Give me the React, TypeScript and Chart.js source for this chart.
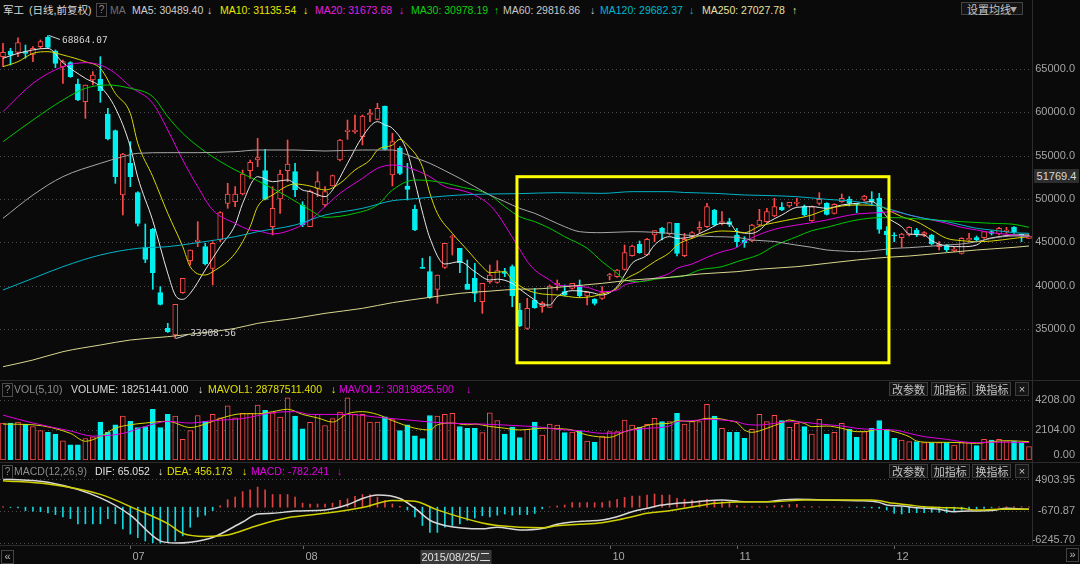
import React, { useEffect, useRef } from "react";
import { Chart, registerables } from "chart.js";
Chart.register(...registerables);

const BG = "#0a0a0a";
const UP = "#ff4a4a";
const DOWN = "#00f0f0";

// ---------- candles ----------
const opens = [66423,67077,66923,66999,66693,67577,68654,67077,65270,65731,63270,61231,63731,63808,59808,57885,50463,54116,50732,44386,46500,39193,35078,34309,39193,42886,45078,44500,42001,45270,49501,49693,50578,53270,54501,53270,46808,50001,53270,53155,49308,46808,51231,49308,51500,54500,57770,57770,57193,59693,59193,60731,52770,55847,51501,48808,42077,41616,39578,42116,45577,44308,40193,40847,38155,40463,40386,41617,42194,37194,35078,38348,37578,37502,40079,39309,39694,40079,38809,38463,38540,41117,41040,41886,43463,44770,43540,45848,46617,45963,47194,43463,45655,46502,46809,48732,47194,47386,45848,45271,45156,47002,47386,48040,49040,49194,49502,49117,47502,49502,49502,48347,49694,49963,49502,49963,49963,50078,46309,45848,45540,45848,46425,45925,45848,44502,44694,44040,43732,45271,45540,45540,46232,45963,46232,46732,45963,45463];
const highs = [67962,67385,68600,67770,67577,68346,68864.07,67192,66039,65846,63847,63154,64693,66423,60462,57962,55270,56616,50847,47116,46616,39885,35654,37847,40847,44116,47385,44885,45077,48539,51808,51424,53347,54500,57000,55731,51424,53347,56808,54116,49693,51039,53155,51424,52770,56885,59116,59693,59693,60347,61039,60731,57577,56039,54116,49308,43155,43347,41232,44886,45847,44308,42963,42577,40270,42386,42886,42001,42385,37963,38540,39694,38155,40079,40656,40079,40271,40656,39232,38500,39886,41425,41900,44693,44693,45155,45463,46348,46732,47271,47194,46040,46232,47386,49502,48809,48540,47771,46617,45655,47079,48809,48925,50078,49578,49617,50078,49309,49194,50732,49578,49463,50578,50271,49502,50425,50848,50655,46809,46117,46040,46809,46617,46232,45925,45079,44771,44425,45540,46040,45732,46232,46348,46732,46732,46809,45963,45848];
const lows = [65270,65462,66423,66231,65847,67385,67385,65154,63347,64039,61347,59308,63154,61154,56808,51808,48154,51424,46885,42655,39578,37770,34600,33908.56,39116,42386,44500,42386,40078,45077,48924,49116,50462,52385,53732,49885,45847,48347,52000,50270,46808,46808,50270,49116,51500,54385,56885,57577,56231,58924,59116,55654,51500,52808,49885,46347,42000,38539,37962,42000,43540,41501,39578,38155,36809,40271,40271,41040,37578,35270,34963,37386,36925,37502,39502,38809,39600,38655,37771,37771,38400,40656,40950,41800,43400,43732,43463,45078,45271,45848,43425,43348,45463,46040,46732,46886,47002,46809,44502,44425,45079,46886,47309,47963,48655,49040,49194,48040,47425,49309,48155,48270,49617,49194,48425,49810,49309,46040,43540,45078,44425,45732,45655,45655,44694,44117,43925,43925,43655,45194,45155,45463,45848,45848,46040,46040,45079,45463];
const closes = [66923,66616,68039,66808,67385,68154,67500,65654,65846,64116,61424,63154,64308,62501,56924,52578,55193,52578,47193,43040,41501,37847,34693,37847,40847,44116,45270,42501,44885,48424,50578,50578,52886,54232,54770,49962,48924,52885,54039,51039,47001,50924,52000,50847,52693,56808,57962,57962,59577,59885,60462,55731,56616,52962,51116,46424,42000,38655,41232,44886,45654,42654,39578,39116,40270,41232,41732,41424,38809,35348,37386,37463,37963,39963,40271,38925,40271,38809,39232,37963,39194,41267,41809,43809,44578,43809,45348,46348,46040,47271,43732,45348,46117,46732,49117,47002,47394,47079,45079,44963,47002,47579,48540,49117,48732,49617,49617,48155,49117,49963,48232,49386,50078,49502,49386,50347,49694,46502,45848,45732,45963,46732,45963,46117,44809,44809,44117,44232,45463,45463,45271,46232,46040,46617,46425,46232,45771,45732];

// ---------- moving averages, read as [bar index, value] ----------
const ma5Pts = [[0,66231],[2,66808],[6,67385],[8,65731],[11,63924],[13,62962],[15,60500],[17,56039],[18,52500],[20,47500],[22,41424],[23,38924],[24,38423],[25,39116],[27,41808],[29,44501],[31,47000],[32,49500],[34,52578],[36,52000],[38,52193],[40,51039],[41,50850],[43,50270],[44,51039],[46,54116],[48,57193],[50,58924],[51,58539],[52,58154],[54,55400],[55,52000],[56,48500],[57,45500],[59,42500],[61,42770],[63,41616],[65,40654],[66,40750],[68,40270],[69,39600],[71,38348],[72,37771],[73,37771],[74,38732],[76,39424],[78,39309],[79,39116],[80,38925],[82,39886],[83,41233],[84,42578],[86,43540],[87,44694],[89,45655],[90,45463],[92,45655],[94,46425],[96,47194],[97,47194],[98,46232],[100,46040],[101,46400],[102,47200],[104,48155],[106,49040],[108,49117],[110,48925],[112,49309],[114,49502],[116,49694],[117,49117],[118,47963],[120,46809],[121,45963],[123,45848],[124,45193],[126,44578],[128,44501],[130,44694],[131,45270],[133,45655],[135,45848],[137,45848]];
const ma10Pts = [[0,65270],[2,65847],[4,66808],[6,67000],[8,66616],[11,65847],[13,65077],[15,62193],[17,59885],[18,56424],[20,52578],[22,48347],[24,44501],[25,42193],[27,41231],[28,41616],[31,43731],[33,46808],[34,49116],[36,50462],[39,51731],[41,51500],[43,51039],[45,51808],[47,53347],[49,54500],[50,55654],[52,56231],[53,56885],[54,56231],[56,53731],[57,50654],[58,48347],[60,46039],[62,44116],[64,42193],[65,41501],[67,41616],[68,40655],[70,39501],[72,39040],[74,38925],[75,38809],[77,38617],[79,38809],[80,39040],[82,39694],[83,40655],[85,41617],[87,42771],[89,43809],[90,44694],[92,45463],[94,46040],[96,46309],[98,46232],[99,46117],[101,46850],[103,47271],[106,47771],[108,48155],[110,48809],[112,49194],[114,49309],[117,49194],[118,48809],[120,47963],[122,47386],[124,46425],[126,45463],[128,45194],[130,45078],[132,45150],[135,45463],[137,45655]];
const ma20Pts = [[0,60077],[4,63347],[8,65270],[11,65731],[13,65462],[15,64500],[17,62962],[20,61039],[22,57962],[24,54500],[26,51424],[28,48731],[31,47193],[33,46424],[34,46347],[36,45962],[39,46616],[41,47578],[43,49116],[45,50654],[48,52385],[50,53539],[52,53924],[54,53654],[57,52578],[59,51424],[61,51039],[63,50462],[65,49300],[66,48300],[67,47000],[68,45600],[69,44200],[70,42800],[71,41809],[73,40655],[74,40079],[76,39963],[78,39809],[80,39309],[82,39501],[83,40079],[85,40463],[87,40848],[89,41424],[90,41999],[92,42501],[94,43270],[96,43924],[98,44424],[99,45078],[101,45900],[103,46502],[106,47002],[108,47271],[110,47578],[112,47963],[114,48270],[117,48425],[119,48540],[121,48155],[123,47771],[126,47194],[128,46732],[130,46425],[132,46117],[135,45848],[137,45655]];
const ma30Pts = [[0,56616],[4,59116],[8,61423],[11,62770],[14,63154],[17,62770],[20,61808],[22,59500],[24,57578],[27,55462],[31,53347],[34,52100],[38,50270],[41,48731],[43,47885],[47,48347],[50,49308],[52,51039],[55,52193],[58,52000],[61,51424],[65,50462],[67,49116],[69,47962],[71,47386],[73,46617],[75,45655],[78,44309],[80,42771],[82,41424],[83,40655],[85,40463],[87,40732],[89,40963],[91,41117],[93,41809],[96,42194],[98,42771],[101,43600],[103,44600],[106,45655],[108,46348],[110,46732],[112,47194],[114,47578],[117,47848],[119,47848],[123,47655],[128,47386],[132,47194],[135,47078],[137,46732]];
const ma60Pts = [[0,47770],[4,50462],[8,52578],[13,54116],[16,54885],[18,55270],[22,55347],[26,55347],[31,55462],[34,55654],[39,55654],[43,55539],[48,55654],[52,55654],[54,55077],[57,54116],[59,53270],[61,52385],[63,51424],[65,50462],[67,49700],[69,48924],[71,48348],[73,47578],[75,46809],[77,46232],[80,46117],[84,46232],[89,46040],[91,45848],[93,45732],[95,45655],[98,45578],[100,45270],[103,45100],[105,44809],[108,44424],[110,44117],[112,44001],[114,43924],[117,44117],[119,44309],[121,44386],[123,44501],[126,44694],[128,44809],[130,45078],[132,45463],[135,45732],[137,45732]];
const ma120Pts = [[0,39501],[4,40847],[8,42193],[13,43539],[18,44308],[22,44501],[26,44962],[31,45654],[34,46232],[39,47001],[43,48154],[48,48924],[52,49808],[54,49962],[57,50193],[61,50462],[65,50578],[69,50620],[74,50732],[80,50650],[84,50848],[89,50848],[91,50750],[95,50655],[99,50463],[102,50400],[106,50270],[110,49963],[114,49694],[118,48924],[121,48155],[123,47771],[126,47386],[128,47002],[130,46617],[132,46425],[135,46117],[137,46040]];
const ma250Pts = [[0,30650],[4,31424],[8,32385],[13,33154],[17,33731],[22,34116],[26,34500],[31,35077],[34,35654],[39,36231],[43,36808],[48,37385],[52,38039],[57,38654],[61,39116],[65,39370],[69,39600],[71,39617],[75,39886],[80,40271],[84,40655],[89,40963],[93,41348],[98,41617],[101,41900],[106,42194],[110,42578],[114,42963],[118,43270],[121,43424],[126,43809],[130,44117],[135,44424],[137,44578]];

// ---------- volume ----------
const volumes = [2592,2592,2663,2519,2350,2060,1940,1795,1336,1070,1070,1505,1626,2663,1940,2470,3075,2713,2278,2350,3558,2278,3196,3075,1457,2060,3123,2713,3196,2954,3798,2954,3266,3266,3847,3485,3316,3002,4354,3075,2180,2640,3196,2422,2906,3365,4354,3196,3196,2663,2663,3027,2834,2060,2470,1698,1505,3123,3075,3196,3266,2350,2229,2229,1915,3316,2761,1819,2301,1577,2157,2663,1753,2525,2454,1917,1964,2034,1332,1262,1683,1987,1987,2805,2454,2290,2501,2922,2688,2688,3273,2525,2688,2688,3904,3086,2221,1940,1940,1520,2150,3203,2688,3133,2758,2290,2571,2337,1823,2852,1823,1940,2571,2150,1590,1987,2221,2758,2150,1520,1403,1286,1286,1216,1216,1216,1216,1052,1216,1216,1005,1450,1403,1450,1286,1332,1169,935];
const mavol1Pts = [[0,2519],[4,2470],[9,1869],[11,1312],[13,1650],[15,2230],[17,2470],[19,2592],[22,2713],[25,2278],[27,2519],[29,2906],[32,3244],[34,3244],[36,3389],[38,3558],[40,3196],[42,2954],[44,2663],[46,3244],[48,3389],[50,3196],[52,2761],[55,2230],[57,2109],[58,2470],[60,2592],[62,2470],[63,2519],[65,2350],[67,2230],[69,2109],[72,2221],[74,2200],[76,2104],[78,1753],[81,1590],[83,1987],[85,2267],[87,2525],[89,2571],[90,2758],[92,2700],[94,2922],[95,2922],[97,2758],[98,2618],[99,2104],[100,1940],[102,2221],[104,2618],[105,2805],[106,2700],[107,2571],[108,2337],[110,2384],[112,2221],[114,1987],[115,1987],[117,2150],[119,1987],[121,1637],[122,1332],[124,1239],[126,1239],[128,1216],[130,1169],[132,1286],[134,1356],[137,1286]];
const mavol2Pts = [[0,3147],[4,2592],[9,2036],[12,1674],[16,1867],[19,2350],[22,2713],[25,2592],[28,2761],[32,2906],[36,3316],[39,3389],[41,3196],[46,3196],[50,3002],[55,2761],[59,2592],[64,2519],[69,2398],[72,2291],[74,2150],[77,2057],[80,1870],[82,1900],[84,2104],[86,2221],[89,2384],[90,2688],[92,2758],[94,2852],[96,2805],[98,2688],[99,2525],[101,2454],[103,2571],[105,2688],[107,2640],[109,2525],[112,2384],[114,2221],[116,2150],[119,2104],[121,1870],[123,1637],[126,1450],[128,1286],[130,1216],[132,1250],[134,1250],[137,1216]];

// ---------- MACD ----------
const macdHist = [120,-60,-120,-600,-700,-800,-1000,-1300,-1700,-2000,-2900,-2900,-2900,-2900,-2000,-2900,-3800,-4700,-5300,-5900,-6200,-6245,-6200,-5900,-5000,-3500,-1700,-1400,-600,250,1300,1750,2700,3000,3500,3000,2200,2200,2200,1750,700,550,550,550,700,1200,1450,1900,2200,2200,1750,1150,550,150,-500,-1700,-3200,-4400,-4400,-3500,-3200,-2900,-2300,-1900,-1500,-1700,-1400,-1200,-1400,-1300,-1300,-1100,-300,50,200,370,780,780,780,780,780,1070,1360,1710,1940,1940,2120,2290,2120,2120,1540,1360,1250,1130,1360,1130,950,840,260,60,60,60,90,260,260,490,490,90,90,40,30,20,10,-20,-40,-80,-150,-210,-500,-1080,-1190,-960,-960,-960,-900,-900,-960,-670,-500,-380,-320,-200,-60,40,80,80,80,60];
const difPts = [[0,4903],[6,4320],[13,1620],[17,-1380],[21,-5880],[23,-6245],[25,-6100],[28,-5280],[32,-2580],[34,-1200],[36,-1080],[39,-660],[43,-480],[46,420],[48,1500],[50,2100],[53,1500],[55,-180],[57,-2280],[59,-3180],[64,-3780],[66,-3480],[69,-3960],[72,-3700],[74,-2990],[76,-2590],[78,-2410],[80,-2240],[82,-1660],[84,-790],[86,-200],[88,370],[90,660],[92,840],[94,1130],[96,1250],[99,950],[102,950],[104,1250],[106,1360],[110,1250],[114,1130],[117,830],[118,370],[120,200],[122,-90],[125,-380],[127,-790],[129,-670],[132,-600],[134,-210],[137,-380]];
const deaPts = [[0,4620],[6,4020],[13,2220],[18,-480],[22,-2880],[24,-4560],[27,-5100],[30,-4860],[34,-3180],[38,-1860],[43,-1080],[48,-60],[52,1140],[55,1020],[58,-480],[64,-2760],[66,-3180],[72,-3600],[74,-3220],[77,-2990],[80,-2700],[82,-2240],[84,-1660],[86,-1070],[89,-610],[91,-200],[93,260],[95,660],[97,840],[98,900],[103,950],[107,1240],[116,1240],[119,660],[121,370],[123,80],[126,-90],[128,-210],[130,-500],[133,-380],[137,-380]];

// ---------- axes / labels ----------
const priceTicks = [65000, 60000, 55000, 50000, 45000, 40000, 35000];
const volTicks = [4208, 2104, 0];
const macdTicks = [4903.95, -670.87, -6245.7];
const monthTicks = [17, 40, 81, 98, 119];
const monthLabels = ["07", "08", "10", "11", "12"];
const cursorIdx = 56;
const cursorDate = "2015/08/25/二";
const highlightBox = { from: 68.63, to: 118.3, top: 52574, bottom: 31102 };

const X_MIN = -0.4;
const X_MAX = 137.4;
const FONT = '"Liberation Sans", Arial, "Noto Sans CJK SC", sans-serif';

const up = closes.map((c, i) => c >= opens[i]);

function xAxis() {
  return { type: "linear", min: X_MIN, max: X_MAX, display: false, offset: false };
}
function yAxis(min: number, max: number) {
  return {
    position: "right", min, max, display: true,
    grid: { display: false, drawTicks: false }, border: { display: false },
    ticks: { display: false },
    afterFit: (s: any) => { s.width = 48; },
  };
}
function axisPlugin(id: string, values: number[], decimals: number) {
  return {
    id,
    beforeDatasetsDraw(chart: any) {
      const { ctx, chartArea } = chart;
      const y = chart.scales.y;
      ctx.save();
      ctx.strokeStyle = "#4c4c4c";
      ctx.lineWidth = 1;
      ctx.setLineDash([1, 3]);
      values.forEach((v) => {
        const py = Math.round(y.getPixelForValue(v)) + 0.5;
        if (py > chartArea.bottom - 1) return;
        ctx.beginPath();
        ctx.moveTo(chartArea.left, py);
        ctx.lineTo(chartArea.right, py);
        ctx.stroke();
      });
      ctx.restore();
    },
    afterDraw(chart: any) {
      const { ctx, chartArea } = chart;
      const y = chart.scales.y;
      ctx.save();
      ctx.font = "11px " + FONT;
      ctx.fillStyle = "#a4a4a4";
      ctx.textAlign = "right";
      ctx.textBaseline = "middle";
      values.forEach((v) => {
        let py = y.getPixelForValue(v);
        py = Math.max(chartArea.top + 2, Math.min(chartArea.bottom - 5, py));
        ctx.fillText(v.toFixed(decimals), 1075, py);
      });
      ctx.restore();
    },
  };
}
function lineDs(pts: number[][], color: string, width = 1) {
  return {
    type: "line", data: pts.map(([x, y]) => ({ x, y })), borderColor: color, borderWidth: width,
    pointRadius: 0, cubicInterpolationMode: "monotone", order: 0,
  };
}
const baseOptions = (yMin: number, yMax: number, padding: any) => ({
  responsive: false, animation: false, events: [],
  layout: { padding },
  plugins: { legend: { display: false }, tooltip: { enabled: false } },
  scales: { x: xAxis(), y: yAxis(yMin, yMax) },
});

const markerPlugin = {
  id: "markers",
  afterDatasetsDraw(chart: any) {
    const { ctx, scales } = chart;
    const x = scales.x, y = scales.y;
    let hi = 0, lo = 0;
    highs.forEach((h, i) => { if (h > highs[hi]) hi = i; });
    lows.forEach((l, i) => { if (l < lows[lo]) lo = i; });
    ctx.save();
    ctx.strokeStyle = "#d0d0d0";
    ctx.fillStyle = "#d0d0d0";
    ctx.lineWidth = 1;
    ctx.font = '9.5px "DejaVu Sans Mono", monospace';
    ctx.textBaseline = "middle";
    const hx = x.getPixelForValue(hi), hy = y.getPixelForValue(highs[hi]);
    ctx.beginPath(); ctx.moveTo(hx + 1, hy); ctx.lineTo(hx + 12, hy + 4); ctx.stroke();
    ctx.fillText(highs[hi].toFixed(2), hx + 14, hy + 5);
    const lx = x.getPixelForValue(lo), ly = y.getPixelForValue(lows[lo]);
    ctx.beginPath(); ctx.moveTo(lx + 1, ly); ctx.lineTo(lx + 13, ly - 4); ctx.stroke();
    ctx.fillText(lows[lo].toFixed(2), lx + 15, ly - 5);
    // highlight rectangle
    const x1 = x.getPixelForValue(highlightBox.from), x2 = x.getPixelForValue(highlightBox.to);
    const y1 = y.getPixelForValue(highlightBox.top), y2 = y.getPixelForValue(highlightBox.bottom);
    ctx.strokeStyle = "#ffff00";
    ctx.lineWidth = 3;
    ctx.strokeRect(x1, y1, x2 - x1, y2 - y1);
    ctx.restore();
  },
};

const xLabelPlugin = {
  id: "xlabels",
  afterDraw(chart: any) {
    const { ctx, chartArea, scales } = chart;
    const x = scales.x;
    ctx.save();
    ctx.strokeStyle = "#6a6a6a";
    ctx.lineWidth = 1;
    ctx.font = "11px " + FONT;
    ctx.fillStyle = "#a8a8a8";
    ctx.textBaseline = "middle";
    ctx.textAlign = "left";
    monthTicks.forEach((m, k) => {
      const px = Math.round(x.getPixelForValue(m)) + 0.5;
      ctx.beginPath(); ctx.moveTo(px, chartArea.bottom + 1); ctx.lineTo(px, chartArea.bottom + 4); ctx.stroke();
      ctx.fillText(monthLabels[k], px + 2, chartArea.bottom + 12);
    });
    const cx = x.getPixelForValue(cursorIdx) - 2;
    const w = ctx.measureText(cursorDate).width + 2;
    ctx.fillStyle = "#3a3a3a";
    ctx.fillRect(cx, chartArea.bottom + 5, w, 14);
    ctx.fillStyle = "#e0e0e0";
    ctx.fillText(cursorDate, cx + 1, chartArea.bottom + 12.5);
    ctx.restore();
  },
};

const headerItems = [
  { t: "军工", x: 3, c: "#d8d8d8" },
  { t: "(日线,前复权)", x: 29, c: "#d8d8d8" },
  { t: "MA", x: 110, c: "#6e6e6e" },
  { t: "MA5: 30489.40", x: 132, c: "#cfcfcf" }, { t: "↓", x: 207, c: "#cfcfcf" },
  { t: "MA10: 31135.54", x: 220, c: "#e8e800" }, { t: "↓", x: 303, c: "#e8e800" },
  { t: "MA20: 31673.68", x: 315, c: "#e020e0" }, { t: "↓", x: 399, c: "#e020e0" },
  { t: "MA30: 30978.19", x: 411, c: "#10d010" }, { t: "↑", x: 494, c: "#10d010" },
  { t: "MA60: 29816.86", x: 503, c: "#c8c8c8" }, { t: "↓", x: 590, c: "#c8c8c8" },
  { t: "MA120: 29682.37", x: 600, c: "#00b8d0" }, { t: "↓", x: 689, c: "#00b8d0" },
  { t: "MA250: 27027.78", x: 702, c: "#e8e0a0" }, { t: "↑", x: 792, c: "#e8e0a0" },
];
const volItems = [
  { t: "VOL(5,10)", x: 14, c: "#8c8c8c" },
  { t: "VOLUME: 18251441.000", x: 71, c: "#d8d8d8" }, { t: "↓", x: 198, c: "#d8d8d8" },
  { t: "MAVOL1: 28787511.400", x: 208, c: "#e0e000" }, { t: "↓", x: 331, c: "#e0e000" },
  { t: "MAVOL2: 30819825.500", x: 339, c: "#e000e0" }, { t: "↓", x: 466, c: "#e000e0" },
];
const macdItems = [
  { t: "MACD(12,26,9)", x: 14, c: "#8c8c8c" },
  { t: "DIF: 65.052", x: 95, c: "#e0e0e0" }, { t: "↓", x: 158, c: "#e0e0e0" },
  { t: "DEA: 456.173", x: 167, c: "#e0e000" }, { t: "↓", x: 242, c: "#e0e000" },
  { t: "MACD: -782.241", x: 251, c: "#e000e0" }, { t: "↓", x: 337, c: "#e000e0" },
];
const buttons = ["改参数", "加指标", "换指标"];

function Row({ items, top }: { items: { t: string; x: number; c: string }[]; top: number }) {
  return (
    <>
      <div style={{ position: "absolute", left: 2, top: top + 1, width: 9, height: 12, border: "1px solid #4a4a4a", color: "#8a8a8a", fontSize: 10, lineHeight: "12px", textAlign: "center" }}>?</div>
      {items.map((it, k) => (
        <span key={k} style={{ position: "absolute", left: it.x, top, color: it.c, fontSize: 10.5, lineHeight: "14px", whiteSpace: "nowrap" }}>{it.t}</span>
      ))}
    </>
  );
}
function Buttons({ top }: { top: number }) {
  return (
    <>
      {buttons.map((b, k) => (
        <div key={k} style={{ position: "absolute", left: 889 + k * 41.7, top, width: 37, height: 12, border: "1px solid #3c3c3c", background: "#151515", color: "#c4c4c4", fontSize: 11, lineHeight: "12px", textAlign: "center", fontFamily: '"Noto Sans CJK SC", sans-serif' }}>{b}</div>
      ))}
      <div style={{ position: "absolute", left: 1015, top, width: 12, height: 12, border: "1px solid #3c3c3c", background: "#151515", color: "#c4c4c4", fontSize: 11, lineHeight: "12px", textAlign: "center" }}>×</div>
    </>
  );
}

export default function App() {
  const mainRef = useRef<HTMLCanvasElement>(null);
  const volRef = useRef<HTMLCanvasElement>(null);
  const macdRef = useRef<HTMLCanvasElement>(null);

  useEffect(() => {
    const main = new Chart(mainRef.current as HTMLCanvasElement, {
      type: "bar",
      data: {
        datasets: [
          { type: "bar", data: highs.map((h, i) => ({ x: i, y: [lows[i], h] })), backgroundColor: up.map((u) => (u ? UP : DOWN)), barThickness: 1, grouped: false, order: 3 } as any,
          { type: "bar", data: opens.map((o, i) => ({ x: i, y: [o, closes[i]] })), backgroundColor: up.map((u) => (u ? BG : DOWN)), borderColor: up.map((u) => (u ? UP : DOWN)), borderWidth: 1, borderSkipped: false, barThickness: 5, minBarLength: 1, grouped: false, order: 2 } as any,
          lineDs(ma250Pts, "#d8d890"),
          lineDs(ma120Pts, "#00b4c8"),
          lineDs(ma60Pts, "#a8a8a8"),
          lineDs(ma30Pts, "#00c800"),
          lineDs(ma20Pts, "#e000e0"),
          lineDs(ma10Pts, "#d8d800"),
          lineDs(ma5Pts, "#e8e8e8"),
        ] as any,
      },
      options: baseOptions(29117, 70654, 0) as any,
      plugins: [axisPlugin("pAxis", priceTicks, 1), markerPlugin],
    });
    const vol = new Chart(volRef.current as HTMLCanvasElement, {
      type: "bar",
      data: {
        datasets: [
          { type: "bar", data: volumes.map((v, i) => ({ x: i, y: v })), backgroundColor: up.map((u) => (u ? BG : DOWN)), borderColor: up.map((u) => (u ? UP : DOWN)), borderWidth: 1, borderSkipped: false, barThickness: 5, grouped: false, order: 2 } as any,
          lineDs(mavol2Pts, "#e000e0"),
          lineDs(mavol1Pts, "#d8d800"),
        ] as any,
      },
      options: baseOptions(0, 4488, { top: 16, bottom: 2 }) as any,
      plugins: [axisPlugin("vAxis", volTicks, 2)],
    });
    const macd = new Chart(macdRef.current as HTMLCanvasElement, {
      type: "bar",
      data: {
        datasets: [
          { type: "bar", data: macdHist.map((v, i) => ({ x: i, y: v })), backgroundColor: macdHist.map((v) => (v >= 0 ? "#e04040" : "#10d8e0")), barThickness: 1, grouped: false, order: 2 } as any,
          lineDs(deaPts, "#d0d000", 1.5),
          lineDs(difPts, "#d8d8d8", 1.5),
        ] as any,
      },
      options: baseOptions(-6593, 5078, { top: 16, bottom: 19 }) as any,
      plugins: [axisPlugin("mAxis", macdTicks, 2), xLabelPlugin],
    });
    return () => { main.destroy(); vol.destroy(); macd.destroy(); };
  }, []);

  return (
    <div style={{ position: "fixed", left: 0, top: 0, width: 1080, height: 564, background: BG, overflow: "hidden", fontFamily: FONT }}>
      <canvas ref={mainRef} width={1080} height={360} style={{ position: "absolute", left: 0, top: 20 }} />
      <canvas ref={volRef} width={1080} height={82} style={{ position: "absolute", left: 0, top: 380 }} />
      <canvas ref={macdRef} width={1080} height={102} style={{ position: "absolute", left: 0, top: 462 }} />
      <div style={{ position: "absolute", left: 1032, top: 0, width: 1, height: 545, background: "#2c2c2c" }} />
      <div style={{ position: "absolute", left: 0, top: 380, width: 1080, height: 1, background: "#2c2c2c" }} />
      <div style={{ position: "absolute", left: 0, top: 462, width: 1080, height: 1, background: "#2c2c2c" }} />
      <div style={{ position: "absolute", left: 0, top: 545, width: 1080, height: 1, background: "#2c2c2c" }} />
      {headerItems.map((it, k) => (
        <span key={k} style={{ position: "absolute", left: it.x, top: 3, color: it.c, fontSize: 10.5, lineHeight: "14px", whiteSpace: "nowrap" }}>{it.t}</span>
      ))}
      <div style={{ position: "absolute", left: 96, top: 3, width: 9, height: 12, border: "1px solid #4a4a4a", color: "#8a8a8a", fontSize: 10, lineHeight: "12px", textAlign: "center" }}>?</div>
      <div style={{ position: "absolute", left: 961, top: 2, width: 62, height: 13, border: "1px solid #444", background: "#141414", color: "#c4c4c4", fontSize: 11, lineHeight: "13px", fontFamily: '"Noto Sans CJK SC", sans-serif', paddingLeft: 5, boxSizing: "border-box" }}>
        设置均线<span style={{ position: "absolute", right: 5, top: 0, fontSize: 7, color: "#aaa" }}>▼</span>
      </div>
      <Row items={volItems} top={382} />
      <Buttons top={382} />
      <Row items={macdItems} top={464} />
      <Buttons top={464} />
      <div style={{ position: "absolute", left: 1034, top: 169, width: 45, height: 14, background: "#2e2e2e", color: "#d8d8d8", fontSize: 11, lineHeight: "14px", textAlign: "center" }}>51769.4</div>
      <div style={{ position: "absolute", left: 1, top: 550, width: 11, height: 12, border: "1px solid #444", color: "#bbb", fontSize: 11, lineHeight: "11px", textAlign: "center" }}>«</div>
      <div style={{ position: "absolute", left: 1066, top: 548, width: 11, height: 12, border: "1px solid #444", color: "#bbb", fontSize: 11, lineHeight: "11px", textAlign: "center" }}>»</div>
    </div>
  );
}
